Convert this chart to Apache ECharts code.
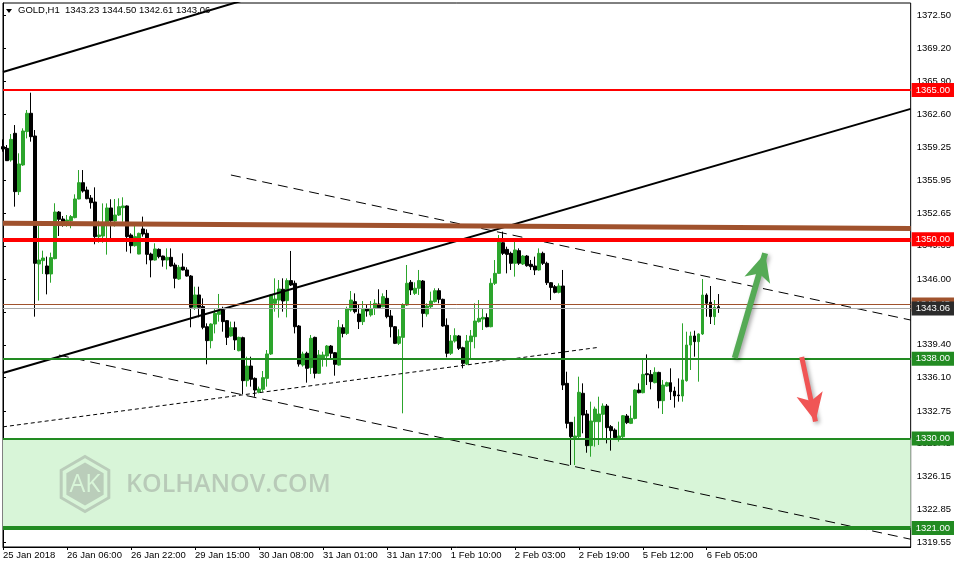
<!DOCTYPE html>
<html><head><meta charset="utf-8">
<script src="https://cdn.jsdelivr.net/npm/echarts@6/dist/echarts.min.js"></script>
<style>html,body{margin:0;padding:0;background:#fff}#c{width:954px;height:567px}</style>
</head><body><div id="c"></div>
<script>
// ---------- data ----------
const tickLabels = ["25 Jan 2018","26 Jan 06:00","26 Jan 22:00","29 Jan 15:00","30 Jan 08:00","31 Jan 01:00","31 Jan 17:00","1 Feb 10:00","2 Feb 03:00","2 Feb 19:00","5 Feb 12:00","6 Feb 05:00"];
const yTickValues = [1319.55,1322.85,1326.15,1329.45,1332.75,1336.10,1339.40,1342.70,1346.00,1349.35,1352.65,1355.95,1359.25,1362.60,1365.90,1369.20,1372.50];
const opens = [1359.31,1359.14,1357.97,1360.65,1354.79,1357.47,1360.82,1362.66,1360.38,1347.52,1347.86,1347.32,1346.52,1348.06,1352.74,1352.04,1351.81,1351.87,1352.18,1354.05,1355.69,1354.95,1354.15,1353.75,1350.27,1350.33,1351.40,1353.15,1351.84,1352.44,1353.18,1353.35,1350.43,1349.36,1348.52,1351.04,1350.60,1348.52,1347.92,1348.99,1348.32,1347.92,1348.19,1347.42,1346.01,1347.22,1346.92,1346.31,1343.17,1344.41,1343.24,1341.22,1339.82,1341.49,1342.46,1342.90,1341.83,1340.29,1341.12,1338.81,1340.12,1335.80,1337.27,1336.03,1334.63,1334.93,1336.03,1338.48,1343.57,1343.90,1344.98,1343.84,1345.85,1345.58,1341.29,1337.37,1338.55,1337.11,1340.15,1336.54,1338.04,1338.28,1339.28,1338.61,1337.37,1341.12,1340.55,1342.90,1343.74,1342.50,1341.73,1343.03,1342.40,1343.07,1343.50,1343.23,1344.07,1342.30,1341.22,1339.55,1340.15,1343.40,1345.68,1344.57,1345.08,1345.81,1342.50,1343.23,1343.74,1344.84,1343.97,1341.36,1338.55,1339.78,1340.29,1339.11,1337.47,1339.72,1340.22,1341.73,1341.99,1342.13,1341.22,1345.58,1346.58,1349.66,1348.99,1348.59,1347.59,1348.86,1347.52,1348.32,1347.49,1347.32,1346.92,1348.59,1347.59,1345.64,1345.24,1344.67,1345.31,1335.53,1331.61,1330.07,1330.17,1334.53,1332.45,1329.27,1331.68,1331.68,1332.42,1333.25,1331.18,1330.84,1330.00,1330.17,1332.25,1331.51,1332.01,1334.86,1334.59,1336.50,1336.43,1335.60,1336.63,1333.79,1335.26,1335.60,1334.76,1334.36,1334.26,1335.80,1339.38,1340.29,1339.72,1340.49,1344.40,1343.67,1342.23,1343.23];
const closes = [1359.07,1357.90,1360.04,1354.79,1357.57,1360.88,1362.66,1360.31,1347.59,1347.92,1348.12,1346.52,1348.16,1352.74,1352.01,1351.77,1351.94,1352.28,1354.05,1355.69,1354.85,1354.08,1353.68,1350.27,1350.43,1351.47,1353.15,1351.87,1352.44,1353.28,1353.35,1350.27,1349.36,1350.27,1350.60,1350.53,1348.49,1347.92,1349.03,1348.26,1347.92,1348.19,1347.32,1346.08,1347.19,1346.92,1346.31,1343.17,1344.41,1343.17,1341.16,1339.82,1341.49,1342.56,1342.80,1341.73,1340.15,1341.12,1339.89,1340.15,1335.80,1337.27,1335.94,1334.86,1334.96,1336.10,1338.48,1344.41,1344.00,1345.01,1343.80,1345.85,1345.41,1341.22,1337.47,1338.48,1337.04,1340.05,1336.54,1338.38,1338.38,1339.28,1338.55,1337.44,1341.16,1340.55,1343.00,1343.90,1342.73,1341.73,1342.97,1342.80,1343.00,1343.57,1343.13,1344.24,1342.23,1341.22,1339.55,1340.22,1343.40,1345.58,1344.91,1345.08,1345.85,1342.56,1343.30,1343.80,1344.84,1343.97,1341.29,1338.55,1339.78,1340.32,1339.05,1337.54,1339.78,1340.29,1341.79,1342.06,1342.16,1341.22,1345.58,1346.58,1349.76,1348.59,1348.49,1347.59,1348.93,1347.60,1348.32,1347.35,1347.25,1346.92,1348.59,1347.59,1345.64,1345.17,1344.67,1345.31,1335.36,1331.51,1330.17,1330.24,1334.63,1332.35,1329.27,1331.75,1332.95,1332.45,1333.25,1331.08,1330.78,1330.07,1330.24,1332.28,1331.58,1332.01,1334.86,1334.59,1336.43,1336.40,1335.70,1336.63,1333.79,1335.36,1335.60,1334.69,1334.26,1334.29,1335.87,1339.38,1340.29,1339.72,1340.49,1344.40,1343.57,1342.23,1343.17,1343.06];
const lows = [1358.80,1357.87,1357.80,1353.28,1354.45,1357.37,1360.14,1359.81,1342.23,1343.84,1346.52,1344.47,1345.64,1347.99,1350.33,1351.27,1351.27,1351.11,1352.11,1354.02,1354.69,1354.02,1353.08,1349.50,1349.66,1349.66,1348.46,1350.10,1351.27,1352.34,1351.77,1348.76,1348.59,1349.26,1348.49,1350.27,1347.49,1346.18,1347.86,1348.09,1347.25,1346.98,1347.25,1345.08,1345.91,1346.88,1346.25,1341.16,1342.90,1342.16,1340.96,1337.44,1339.05,1340.55,1341.73,1340.72,1339.38,1340.22,1338.88,1338.75,1334.46,1335.20,1335.20,1334.19,1334.53,1334.69,1335.20,1338.38,1342.73,1342.13,1342.73,1342.16,1345.31,1340.55,1337.21,1337.21,1335.60,1336.47,1336.03,1336.47,1337.21,1337.21,1338.04,1336.30,1337.31,1340.15,1340.39,1342.73,1342.56,1340.99,1341.39,1342.23,1342.23,1342.40,1343.00,1343.17,1342.06,1340.15,1339.48,1339.38,1332.52,1343.30,1344.41,1344.41,1344.41,1341.16,1342.23,1343.07,1343.64,1343.57,1341.22,1338.14,1338.38,1339.62,1338.88,1337.04,1337.37,1338.04,1339.05,1341.63,1340.89,1341.16,1341.16,1345.41,1346.52,1348.42,1346.58,1346.92,1346.25,1347.42,1347.42,1347.25,1346.92,1346.41,1346.85,1347.42,1345.41,1343.90,1344.57,1344.57,1334.86,1331.01,1327.33,1327.33,1330.00,1330.51,1328.56,1328.16,1329.17,1329.34,1329.84,1329.50,1328.77,1330.00,1329.67,1330.00,1331.44,1331.44,1331.91,1334.53,1334.53,1335.36,1334.93,1335.53,1333.02,1332.45,1335.19,1333.86,1333.09,1333.69,1333.69,1335.70,1336.87,1338.21,1335.70,1340.39,1342.23,1341.49,1341.39,1342.61];
const highs = [1360.04,1359.47,1360.58,1361.48,1358.64,1361.15,1362.99,1364.73,1360.98,1351.34,1348.86,1348.26,1348.66,1353.62,1352.84,1352.34,1352.44,1352.44,1354.52,1356.96,1356.96,1355.29,1354.45,1355.22,1351.87,1353.61,1353.61,1354.02,1354.05,1354.12,1354.22,1353.41,1350.60,1351.44,1350.67,1352.28,1351.00,1348.66,1349.60,1349.09,1348.36,1349.09,1349.09,1347.65,1347.42,1348.59,1347.19,1346.41,1345.24,1345.24,1344.07,1341.56,1341.56,1343.00,1344.51,1343.23,1341.89,1341.73,1341.73,1340.22,1340.22,1338.21,1338.21,1336.13,1335.20,1336.77,1338.88,1344.51,1346.08,1345.91,1346.08,1346.08,1348.83,1345.85,1341.39,1338.71,1338.71,1340.39,1340.22,1338.88,1338.71,1339.38,1339.38,1338.68,1341.89,1341.46,1343.23,1344.81,1344.57,1343.47,1343.80,1343.40,1343.80,1343.97,1344.98,1344.57,1344.91,1342.90,1341.29,1340.96,1343.57,1347.42,1345.91,1345.68,1346.92,1345.91,1343.57,1344.74,1345.08,1345.08,1344.04,1342.06,1340.39,1341.06,1340.39,1339.21,1340.39,1340.89,1343.57,1343.90,1343.07,1342.56,1346.08,1347.92,1350.43,1350.77,1349.26,1348.76,1349.76,1349.09,1348.42,1348.42,1347.92,1348.26,1349.09,1348.76,1347.75,1345.71,1345.41,1345.58,1346.92,1336.70,1331.61,1332.18,1336.20,1335.53,1332.85,1333.69,1333.19,1334.19,1333.52,1333.45,1331.34,1331.01,1331.68,1332.35,1332.45,1333.29,1334.93,1335.53,1337.94,1338.44,1336.87,1337.14,1336.70,1335.87,1335.70,1337.04,1335.19,1336.03,1341.56,1340.72,1340.72,1340.82,1340.55,1346.01,1344.57,1345.31,1343.90,1344.50];
const headerText = "GOLD,H1  1343.23 1344.50 1342.61 1343.06";
const redLevels = [1365.00, 1350.00];
const greenLevels = [1338.00, 1330.00, 1321.00];
const askPrice = 1343.45;
const bidPrice = 1343.06;
const zoneBounds = [1330.00, 1321.00];
// trend lines, [bar index, price]
const channelLower = [[0, 1336.57], [227, 1363.10]];
const channelUpper = [[0, 1366.80], [80, 1376.40]];
const dashedUpper = [[57, 1356.46], [227, 1341.89]];
const dashedLower = [[14, 1338.37], [227, 1319.87]];
const dottedLine = [[0, 1331.16], [149, 1339.15]];
const brownLine = [[0, 1351.61], [227, 1351.09]];
const upArrow = [[183, 1338.08], [190.6, 1348.6]];
const downArrow = [[199.75, 1338.18], [203.2, 1331.7]];
const SLOTS = 228; // bar slots including the right-side shift

// ---------- chart ----------
const FONT = 'Liberation Sans';
const categories = Array.from({length: SLOTS}, (_, i) => String(i));
const candleData = opens.map((o, i) => [o, closes[i], lows[i], highs[i]]);
const showTick = (idx) => idx % 16 === 0 && idx / 16 < tickLabels.length;

function levelItem(v, lineColor, width, boxColor) {
  return {
    yAxis: v,
    lineStyle: {color: lineColor, width: width, type: 'solid'},
    label: {show: true, position: 'end', distance: 1, formatter: v.toFixed(2),
      color: '#fff', backgroundColor: boxColor, padding: [2, 6, 2, 4],
      fontSize: 9.5, lineHeight: 10, fontFamily: FONT}
  };
}
const redWidths = [2, 4];
const greenWidths = [2, 2, 4];
const levelData = [];
redLevels.forEach((v, i) => levelData.push(levelItem(v, '#ff0000', redWidths[i], '#ff0000')));
greenLevels.forEach((v, i) => levelData.push(levelItem(v, '#228b22', greenWidths[i], '#228b22')));
levelData.push(levelItem(askPrice, '#a0522d', 1, '#a0522d'));
levelData.push(levelItem(bidPrice, '#a9a9a9', 1, '#2b2b2b'));

function trend(data, style) {
  return {type: 'line', xAxisIndex: 1, yAxisIndex: 0, data: data, symbol: 'none', silent: true,
    lineStyle: style, z: 4, clip: true, animation: false};
}

function arrowSeries(coords, color, width) {
  return {type: 'line', xAxisIndex: 1, yAxisIndex: 0, data: [], z: 6, clip: false, silent: true,
    markLine: {silent: true, symbol: ['none', 'arrow'], symbolSize: [20, 28], animation: false,
      label: {show: false},
      lineStyle: {color: color, width: width, type: 'solid', shadowBlur: 4, shadowColor: 'rgba(0,0,0,0.35)', shadowOffsetX: 2, shadowOffsetY: 2},
      data: [[{coord: coords[0]}, {coord: coords[1]}]]}};
}

const hex = (cx, cy, r) => [0,1,2,3,4,5].map(k => {
  const a = Math.PI / 180 * (60 * k - 90);
  return [cx + r * Math.cos(a), cy + r * Math.sin(a)];
});

const chart = echarts.init(document.getElementById('c'));
chart.setOption({
  animation: false,
  backgroundColor: '#ffffff',
  grid: {left: 3, right: 43, top: 3, bottom: 20, show: true, borderColor: '#000', borderWidth: 1, backgroundColor: 'transparent'},
  xAxis: [{
    type: 'category', data: categories, boundaryGap: false,
    axisLine: {show: true, lineStyle: {color: '#000', width: 1}},
    axisTick: {show: true, interval: showTick, length: 3, lineStyle: {color: '#000'}},
    axisLabel: {interval: showTick, align: 'left', margin: 3, color: '#000', fontSize: 9.5, fontFamily: FONT,
      formatter: (v, idx) => tickLabels[idx / 16] || ''},
    splitLine: {show: false}
  }, {
    type: 'value', min: 0, max: SLOTS - 1, show: false
  }],
  yAxis: {
    type: 'value', position: 'right', min: 1319.09, max: 1373.74, scale: true,
    axisLine: {show: true, lineStyle: {color: '#000', width: 1}},
    axisTick: {show: true, length: 3, customValues: yTickValues, lineStyle: {color: '#000'}},
    axisLabel: {customValues: yTickValues, margin: 6, color: '#000', fontSize: 9.5, fontFamily: FONT,
      formatter: v => v.toFixed(2)},
    splitLine: {show: false}
  },
  graphic: [
    {type: 'polygon', shape: {points: [[6, 9], [12, 9], [9, 13]]}, style: {fill: '#000'}, z: 10},
    {type: 'text', left: 18, top: 5, style: {text: headerText, fill: '#000', font: '9.5px "Liberation Sans"'}, z: 10},
    {type: 'polygon', shape: {points: hex(85, 484, 27.5)}, style: {fill: 'none', stroke: '#bacdba', lineWidth: 3}, z: 2},
    {type: 'polygon', shape: {points: hex(85, 484, 21.5)}, style: {fill: '#bacdba'}, z: 2},
    {type: 'text', x: 85, y: 485, style: {text: 'AK', fill: '#d8f5d8', font: '25px "Open Sans"', align: 'center', verticalAlign: 'middle'}, z: 3},
    {type: 'text', x: 126, y: 485, style: {text: 'KOLHANOV.COM', fill: '#b8cab8', font: '600 25px "Open Sans"', align: 'left', verticalAlign: 'middle'}, z: 3}
  ],
  series: [
    {type: 'line', data: [], z: 1, silent: true,
      markArea: {silent: true, itemStyle: {color: '#d8f5d8'}, data: [[{yAxis: zoneBounds[0]}, {yAxis: zoneBounds[1]}]]}},
    {type: 'candlestick', data: candleData, barWidth: 3, z: 3, silent: true,
      itemStyle: {color: '#2ca52c', color0: '#000000', borderColor: '#2ca52c', borderColor0: '#000000', borderWidth: 1}},
    trend(channelLower, {color: '#000', width: 2}),
    trend(channelUpper, {color: '#000', width: 2}),
    trend(dashedUpper, {color: '#000', width: 1, type: [10, 6]}),
    trend(dashedLower, {color: '#000', width: 1, type: [10, 6]}),
    trend(dottedLine, {color: '#000', width: 1, type: [4, 3]}),
    trend(brownLine, {color: '#a0522d', width: 5}),
    {type: 'line', data: [], z: 5, clip: false, silent: true,
      markLine: {silent: true, symbol: 'none', animation: false, data: levelData}},
    arrowSeries(upArrow, '#55aa55', 6),
    arrowSeries(downArrow, '#f05555', 5)
  ]
});
</script></body></html>
